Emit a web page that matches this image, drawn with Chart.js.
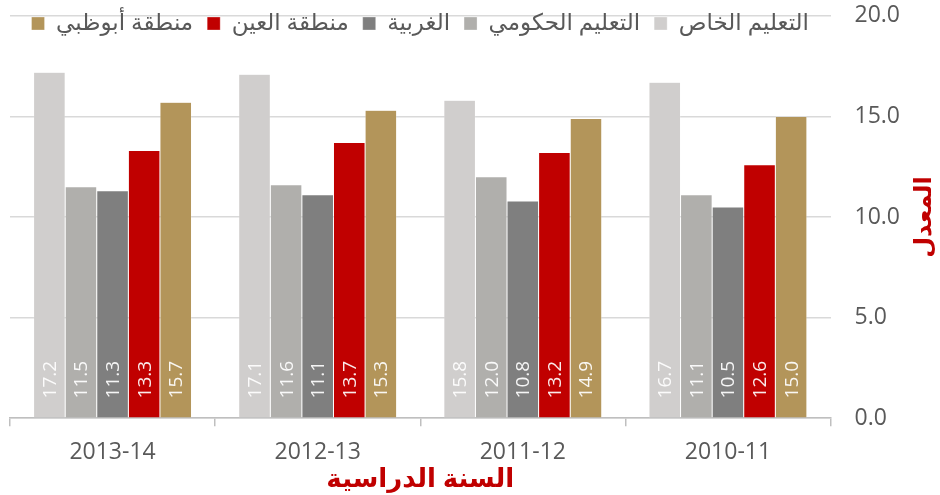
<!DOCTYPE html>
<html>
<head>
<meta charset="utf-8">
<script src="https://cdn.jsdelivr.net/npm/chart.js@4.4.1/dist/chart.umd.min.js"></script>
<style>
  html, body { margin: 0; padding: 0; background: #fff; }
</style>
</head>
<body>
<canvas id="chart" width="940" height="495"></canvas>
<script>
const years = ['2013-14', '2012-13', '2011-12', '2010-11'];
const seriesNames = ['التعليم الخاص', 'التعليم الحكومي', 'الغربية', 'منطقة العين', 'منطقة أبوظبي'];
const privateEdu = [17.2, 17.1, 15.8, 16.7];
const publicEdu = [11.5, 11.6, 12.0, 11.1];
const western = [11.3, 11.1, 10.8, 10.5];
const alAin = [13.3, 13.7, 13.2, 12.6];
const abuDhabi = [15.7, 15.3, 14.9, 15.0];
const yTicks = [0, 5, 10, 15, 20];
const yTitle = 'المعدل';

const colors = ['#d0cecd', '#b0afac', '#7f7f7f', '#c00000', '#b3955a'];
const FONT = "'Open Sans', 'DejaVu Sans', sans-serif";

// values written inside the bars, rotated, near the bottom
const barLabels = {
    id: 'barLabels',
    afterDatasetsDraw(chart) {
        const c = chart.ctx;
        c.save();
        c.font = '19px ' + FONT;
        c.fillStyle = 'rgba(255,255,255,0.92)';
        c.textAlign = 'left';
        c.textBaseline = 'middle';
        chart.data.datasets.forEach((ds, i) => {
            chart.getDatasetMeta(i).data.forEach((bar, j) => {
                c.save();
                c.translate(bar.x + 1, bar.base - 19);
                c.rotate(-Math.PI / 2);
                c.fillText(ds.data[j].toFixed(1), 0, 0);
                c.restore();
            });
        });
        c.restore();
    }
};

// legend sits over the top of the plot, so it takes no layout height;
// the y title on the right reads bottom to top
const overlay = {
    id: 'overlay',
    afterInit(chart) {
        const lg = chart.legend;
        const fit = lg.fit;
        lg.fit = function () {
            fit.call(this);
            this._realHeight = this.height;
            this.height = 0;
        };
    },
    afterLayout(chart) {
        const lg = chart.legend;
        lg.top = -2;
        lg.height = lg._realHeight;
        lg.bottom = lg.top + lg.height;
    },
    afterDraw(chart) {
        const c = chart.ctx;
        const a = chart.chartArea;
        c.save();
        c.font = 'bold 24px ' + FONT;
        c.fillStyle = '#c00000';
        c.textAlign = 'center';
        c.textBaseline = 'middle';
        c.translate(924, (a.top + a.bottom) / 2);
        c.rotate(-Math.PI / 2);
        c.fillText(yTitle, 0, 0);
        c.restore();
    }
};

const ctx = document.getElementById('chart').getContext('2d');
new Chart(ctx, {
    type: 'bar',
    data: {
        labels: years,
        datasets: [privateEdu, publicEdu, western, alAin, abuDhabi].map((d, i) => ({
            label: seriesNames[i],
            data: d,
            backgroundColor: colors[i],
            borderColor: 'rgba(255,255,255,0.6)',
            borderWidth: 0.5,
            barPercentage: 1,
            categoryPercentage: 0.77
        }))
    },
    options: {
        responsive: false,
        animation: false,
        layout: { padding: { left: 10, right: 38, top: 0, bottom: 2 } },
        plugins: {
            legend: {
                position: 'top',
                align: 'center',
                fullSize: false,
                reverse: true,
                labels: {
                    font: { family: FONT, size: 23 },
                    color: '#595959',
                    boxWidth: 13,
                    boxHeight: 13,
                    padding: 14
                }
            },
            tooltip: { enabled: false }
        },
        scales: {
            x: {
                grid: {
                    drawOnChartArea: false,
                    color: '#bfbfbf',
                    tickLength: 8,
                    lineWidth: 1.5
                },
                border: { color: '#bfbfbf', width: 1.5 },
                ticks: {
                    font: { family: FONT, size: 23 },
                    color: '#595959',
                    padding: 12
                },
                title: {
                    display: true,
                    text: 'السنة الدراسية',
                    font: { family: FONT, size: 26, weight: 'bold' },
                    color: '#c00000',
                    padding: { top: -14, bottom: -2 }
                }
            },
            y: {
                position: 'right',
                min: 0,
                max: 20,
                afterBuildTicks(axis) {
                    axis.ticks = yTicks.map(v => ({ value: v }));
                },
                grid: {
                    color: '#d9d9d9',
                    lineWidth: 1.5,
                    tickColor: 'rgba(0,0,0,0)',
                    tickLength: 22
                },
                border: { display: false },
                ticks: {
                    font: { family: FONT, size: 23 },
                    color: '#595959',
                    padding: 2,
                    callback: v => v.toFixed(1)
                }
            }
        }
    },
    plugins: [barLabels, overlay]
});
</script>
</body>
</html>
